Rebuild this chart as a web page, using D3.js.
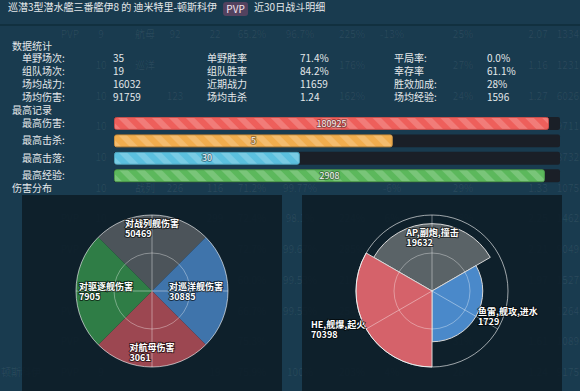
<!DOCTYPE html>
<html>
<head>
<meta charset="utf-8">
<title>伊8 战斗明细</title>
<script src="https://cdn.jsdelivr.net/npm/d3@7"></script>
<style>
  body { margin: 0; background: #193b4f; }
  text { font-family: "Noto Sans CJK SC", "DejaVu Sans", sans-serif; }
</style>
</head>
<body>
<svg id="chart" width="580" height="391"></svg>
<script>
// ---- data ----
var titleName = "巡潜3型潜水艦三番艦伊8 的 迪米特里-顿斯科伊";
var titleMode = "PVP";
var titleTail = "近30日战斗明细";

var statLabels = [
  ["单野场次:", "组队场次:", "场均战力:", "场均伤害:"],
  ["单野胜率", "组队胜率", "近期战力", "场均击杀"],
  ["平局率:", "幸存率", "胜效加成:", "场均经验:"]
];
var statValues = [
  ["35", "19", "16032", "91759"],
  ["71.4%", "84.2%", "11659", "1.24"],
  ["0.0%", "61.1%", "28%", "1596"]
];

var recordLabels = ["最高伤害:", "最高击杀:", "最高击落:", "最高经验:"];
var recordValues = [180925, 5, 30, 2908];
var recordMax = [185500, 8, 72, 3010];
var recordColors = ["#ee5f5b", "#f0ad4e", "#5bc0de", "#5cb85c"];

var targetNames = ["对战列舰伤害", "对巡洋舰伤害", "对航母伤害", "对驱逐舰伤害"];
var targetValues = [50469, 30885, 3061, 7905];
var targetColors = ["#4c545a", "#3f74ab", "#9c4751", "#2f7d46"];

var sourceNames = ["AP,副炮,撞击", "鱼雷,舰攻,进水", "HE,舰爆,起火"];
var sourceValues = [19632, 1729, 70398];
var sourceColors = ["#5a6367", "#4a89ca", "#d5626a"];

// faint table behind the dialog
var ghostRows = [
  ["", "PVP", "9", "航母", "92", "22", "65.2%", "96.7%", "225%", "-13%", "25%", "2.07", "1334"],
  ["", "PVP", "10", "巡洋", "", "", "", "99.2%", "176%", "-5%", "27%", "1.16", "1231"],
  ["", "PVP", "10", "战列", "123", "56", "70.3%", "98.5%", "162%", "0%", "24%", "1.27", "6026"],
  ["", "PVP", "10", "", "", "", "", "", "", "", "", "", "9711"],
  ["顿斯科伊", "PVP", "10", "", "", "", "", "", "", "", "", "", "8732"],
  ["", "PVP", "10", "战列", "226", "116", "71.2%", "99.77%", "186%", "-6%", "29%", "1.33", "1075"],
  ["", "PVP", "10", "战列", "", "299", "72.4%", "98.1%", "224%", "6%", "28%", "2.25", "1462"],
  ["", "PVP", "10", "", "", "", "72.7%", "99.67%", "285%", "", "", "2.21", "9049"],
  ["", "PVP", "10", "", "", "", "60.0%", "99.53%", "217%", "", "", "1.97", "1527"],
  ["", "PVP", "10", "", "", "", "66.7%", "99.55%", "254%", "", "", "1.83", "1264"],
  ["", "PVP", "10", "", "", "", "75.3%", "100%", "221%", "", "31%", "1.61", "1089"],
  ["顿斯科伊", "PVP", "9", "巡洋", "54", "19", "75.9%", "100%", "203%", "4%", "28%", "1.24", "9175"]
];

// ---- layout ----
var svg = d3.select("#chart");
var defs = svg.append("defs");
var textColor = "#e4e8ea";

// ghost table
var ghostX = [1, 70, 101, 145, 175, 215, 252, 300, 352, 392, 463, 538, 579];
var ghostAnchor = ["start", "middle", "middle", "middle", "middle", "middle", "middle", "middle", "middle", "middle", "middle", "middle", "end"];
var ghost = svg.append("g").attr("fill", "#ffffff").attr("fill-opacity", 0.07).attr("font-size", 10);
ghostRows.forEach(function (row, i) {
  var y = 34.7 + i * 30.7;
  row.forEach(function (cell, j) {
    if (!cell) return;
    ghost.append("text").attr("class", "ghost").attr("x", ghostX[j]).attr("y", y).attr("dy", "0.35em")
      .attr("text-anchor", ghostAnchor[j]).text(cell);
  });
});

// header
svg.append("rect").attr("x", 0).attr("y", 24).attr("width", 580).attr("height", 2).attr("fill", "#11303f");
var head = svg.append("text").attr("x", 8).attr("y", 11).attr("font-size", 10).attr("fill", textColor);
head.text(titleName);
var hw = head.node().getComputedTextLength();
svg.append("rect").attr("x", 8 + hw + 6).attr("y", 2).attr("width", 25).attr("height", 14).attr("rx", 3)
  .attr("fill", "#c0507e").attr("fill-opacity", 0.35);
svg.append("text").attr("x", 8 + hw + 18.5).attr("y", 12.5).attr("text-anchor", "middle")
  .attr("font-size", 10).attr("fill", "#f6e8f0").text(titleMode);
svg.append("text").attr("x", 8 + hw + 37).attr("y", 11).attr("font-size", 10).attr("fill", textColor).text(titleTail);

// stats
function heading(txt, y) {
  svg.append("text").attr("x", 12).attr("y", y).attr("dy", "0.35em")
    .attr("font-size", 10).attr("fill", textColor).text(txt);
}
heading("数据统计", 46);
var labelX = [22, 207, 394], valueX = [113, 300, 487];
statLabels.forEach(function (col, c) {
  col.forEach(function (lab, r) {
    var y = 58 + r * 13;
    svg.append("text").attr("x", labelX[c]).attr("y", y).attr("dy", "0.35em")
      .attr("font-size", 10).attr("fill", textColor).text(lab);
    svg.append("text").attr("x", valueX[c]).attr("y", y).attr("dy", "0.35em")
      .attr("font-size", 10).attr("fill", textColor).text(statValues[c][r]);
  });
});

// records
heading("最高记录", 110);
var stripe = defs.append("pattern").attr("id", "stripes").attr("width", 12).attr("height", 12)
  .attr("patternUnits", "userSpaceOnUse").attr("patternTransform", "rotate(-45)");
stripe.append("rect").attr("width", 6).attr("height", 12).attr("fill", "#fff").attr("fill-opacity", 0.18);

var trackX0 = 114, trackX1 = 560;
var barY = d3.scaleBand().domain(d3.range(recordLabels.length)).range([117, 117 + 16.3 * 4]).paddingInner(0.26).paddingOuter(0);
recordLabels.forEach(function (lab, i) {
  var y = barY(i), h = barY.bandwidth();
  var x = d3.scaleLinear().domain([0, recordMax[i]]).range([0, trackX1 - trackX0]);
  svg.append("text").attr("x", 22).attr("y", y + h / 2).attr("dy", "0.35em")
    .attr("font-size", 10).attr("fill", textColor).text(lab);
  svg.append("rect").attr("x", trackX0).attr("y", y).attr("width", trackX1 - trackX0).attr("height", h)
    .attr("rx", 2).attr("fill", "#1a1f27");
  var w = x(recordValues[i]);
  svg.append("rect").attr("x", trackX0 + 0.5).attr("y", y + 0.5).attr("width", w - 1).attr("height", h - 1)
    .attr("rx", 2).attr("fill", recordColors[i]).attr("stroke", d3.color(recordColors[i]).darker(0.5)).attr("stroke-width", 1);
  svg.append("rect").attr("x", trackX0 + 1).attr("y", y + 1).attr("width", w - 2).attr("height", h - 2)
    .attr("fill", "url(#stripes)");
  svg.append("text").attr("x", trackX0 + w / 2).attr("y", y + h / 2).attr("dy", "0.35em")
    .attr("text-anchor", "middle").attr("font-size", 9).attr("fill", "#f2f2f2")
    .attr("stroke", "rgba(0,0,0,0.35)").attr("stroke-width", 2).attr("paint-order", "stroke")
    .text(recordValues[i]);
});

// damage panels
heading("伤害分布", 188);
svg.append("rect").attr("x", 22).attr("y", 195).attr("width", 260).attr("height", 196).attr("fill", "#0c1c27").attr("fill-opacity", 0.88);
svg.append("rect").attr("x", 302).attr("y", 195).attr("width", 260).attr("height", 196).attr("fill", "#0c1c27").attr("fill-opacity", 0.88);

var R = 76;

function drawRose(cx, cy, names, values, colors, start, radiusOf, sideOutside, borders, id) {
  var g = svg.append("g");
  var pie = d3.pie().value(function () { return 1; }).sort(null)
    .startAngle(start).endAngle(start + 2 * Math.PI);
  var arcs = pie(values);
  arcs.forEach(function (a, i) {
    var r = radiusOf(values[i]);
    var grad = defs.append("radialGradient").attr("id", id + i).attr("gradientUnits", "userSpaceOnUse")
      .attr("cx", cx).attr("cy", cy).attr("r", r);
    grad.append("stop").attr("offset", 0).attr("stop-color", d3.color(colors[i]).darker(1.9));
    grad.append("stop").attr("offset", 1).attr("stop-color", colors[i]);
    g.append("path")
      .attr("transform", "translate(" + cx + "," + cy + ")")
      .attr("d", d3.arc().innerRadius(0).outerRadius(r)(a))
      .attr("fill", "url(#" + id + i + ")")
      .attr("stroke", borders ? "#d8d8d8" : "none").attr("stroke-width", 1);
  });
  // grid
  var grid = g.append("g").attr("fill", "none").attr("stroke", "#ffffff");
  grid.append("circle").attr("cx", cx).attr("cy", cy).attr("r", R).attr("stroke-opacity", 0.6);
  grid.append("circle").attr("cx", cx).attr("cy", cy).attr("r", R / 2).attr("stroke-opacity", 0.35);
  arcs.forEach(function (a) {
    var m = (a.startAngle + a.endAngle) / 2;
    grid.append("line").attr("x1", cx).attr("y1", cy)
      .attr("x2", cx + R * Math.sin(m)).attr("y2", cy - R * Math.cos(m)).attr("stroke-opacity", 0.4);
  });
  // labels
  arcs.forEach(function (a, i) {
    var m = (a.startAngle + a.endAngle) / 2;
    var r = radiusOf(values[i]);
    var t = g.append("text").attr("font-size", 9).attr("font-weight", "bold").attr("fill", "#ffffff")
      .attr("stroke", "rgba(0,0,0,0.6)").attr("stroke-width", 2).attr("paint-order", "stroke");
    t.append("tspan").attr("x", 0).attr("y", 0).text(names[i]);
    t.append("tspan").attr("x", 0).attr("y", 10).text(values[i]);
    var bb = t.node().getBBox();
    var s = Math.sin(m), c = Math.cos(m);
    var px = cx + r * s, py = cy - r * c;
    var left, top;
    if (Math.abs(s) < 0.3) {
      left = px - bb.width / 2;
      top = c > 0 ? py + 2 : py - bb.height - 3;
    } else if (s > 0) {
      left = sideOutside ? px + 2 : px - bb.width - 5;
      top = py - bb.height / 2;
    } else {
      left = sideOutside ? px - bb.width - 1 : px + 3;
      top = py - bb.height / 2;
    }
    t.attr("transform", "translate(" + (left - bb.x) + "," + (top - bb.y) + ")");
  });
}

drawRose(152, 291, targetNames, targetValues, targetColors, -Math.PI / 4,
  function () { return R; }, false, false, "tg");

var rLog = d3.scaleLog().domain([1, d3.max(sourceValues)]).range([0, R]);
drawRose(432, 291, sourceNames, sourceValues, sourceColors, -Math.PI / 3,
  function (v) { return rLog(v); }, true, true, "sg");

// the background table only shows through where nothing sits on top of it
var front = svg.selectAll("text:not(.ghost)").nodes().map(function (n) { return n.getBoundingClientRect(); });
svg.selectAll("text.ghost").each(function () {
  var b = this.getBoundingClientRect();
  var hit = front.some(function (f) {
    return b.left < f.right && b.right > f.left && b.top < f.bottom && b.bottom > f.top;
  });
  if (hit) d3.select(this).remove();
});
</script>
</body>
</html>
